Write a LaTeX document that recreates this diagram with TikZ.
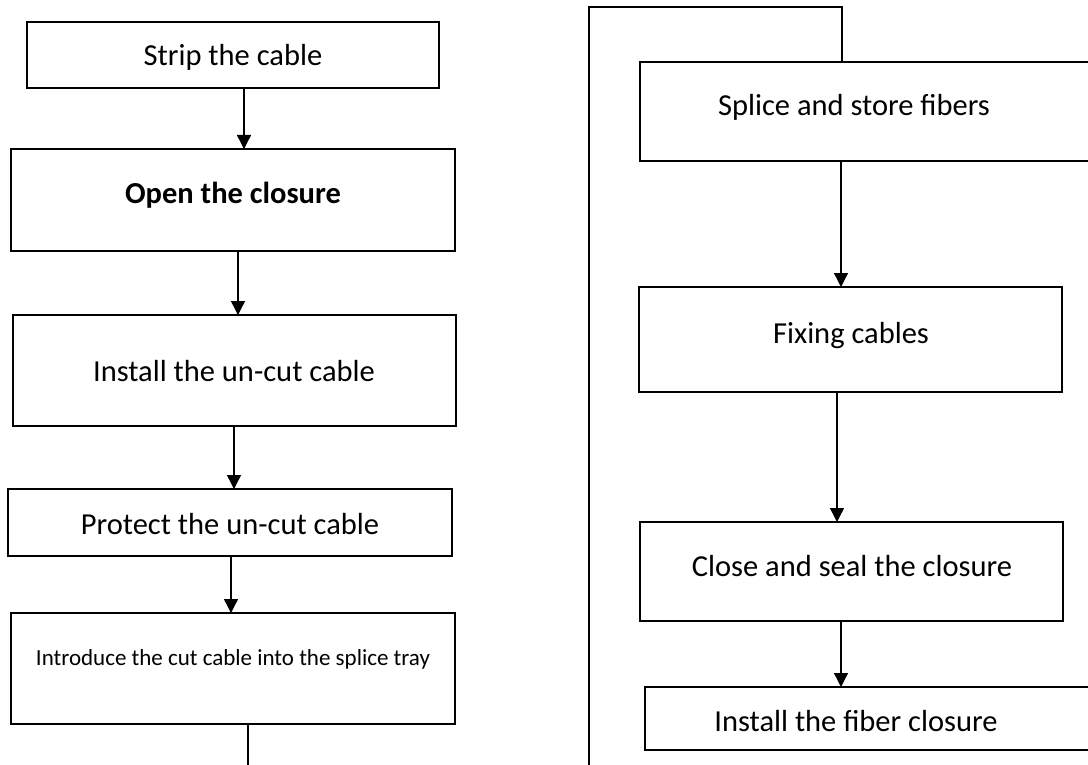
\documentclass[tikz,border=0pt]{standalone}
\usepackage{fontspec}
\setmainfont{Carlito}
\usetikzlibrary{arrows.meta}
\begin{document}
\begin{tikzpicture}[x=1pt,y=-1pt,
  box/.style={draw=black,line width=1.6pt,rectangle,inner sep=0pt,outer sep=0pt},
  lbl/.style={anchor=base,inner sep=0pt,font=\fontsize{30.5}{36}\selectfont},
  small/.style={anchor=base,inner sep=0pt,font=\fontsize{23}{28}\selectfont},
  arr/.style={line width=1.4pt,-{Triangle[width=14pt,length=14pt]}},
  link/.style={line width=1.4pt}]
\clip (0,0) rectangle (1088,765);
\fill[white] (0,0) rectangle (1088,765);
% left column boxes
\node[box,minimum width=412,minimum height=66] (strip) at (233,55) {};
\node[box,minimum width=444,minimum height=102] (open) at (233,200) {};
\node[box,minimum width=443,minimum height=111] (inst) at (234.5,370.5) {};
\node[box,minimum width=444,minimum height=67] (prot) at (230,522.5) {};
\node[box,minimum width=444,minimum height=111] (intro) at (233,668.5) {};
% right column boxes
\node[box,minimum width=455,minimum height=99] (splice) at (867.5,111.5) {};
\node[box,minimum width=423,minimum height=105] (fix) at (850.5,339.5) {};
\node[box,minimum width=423,minimum height=99] (close) at (851.5,571.5) {};
\node[box,minimum width=450,minimum height=63] (fiber) at (870,718.5) {};
% texts
\node[lbl] (tstrip) at (233,66) {Strip the cable};
\node[lbl,font=\fontsize{30.5}{36}\selectfont\bfseries] (topen) at (233,204) {Open the closure};
\node[lbl] (tinst) at (234,381) {Install the un-cut cable};
\node[lbl] (tprot) at (230,534) {Protect the un-cut cable};
\node[small] (tintro) at (233,665) {Introduce the cut cable into the splice tray};
\node[lbl] (tsplice) at (854,116) {Splice and store fibers};
\node[lbl] (tfix) at (851,343) {Fixing cables};
\node[lbl] (tclose) at (852,576) {Close and seal the closure};
\node[lbl] (tfiber) at (856,731) {Install the fiber closure};
% connectors
\draw[arr] ([xshift=11pt]strip.south) -- ([xshift=11pt]strip.south |- open.north);
\draw[arr] ([xshift=5pt]open.south) -- ([xshift=5pt]open.south |- inst.north);
\draw[arr] ([xshift=-0.5pt]inst.south) -- ([xshift=-0.5pt]inst.south |- prot.north);
\draw[arr] ([xshift=1pt]prot.south) -- ([xshift=1pt]prot.south |- intro.north);
\draw[arr] ([xshift=-26.5pt]splice.south) -- ([xshift=-26.5pt]splice.south |- fix.north);
\draw[arr] ([xshift=-13.5pt]fix.south) -- ([xshift=-13.5pt]fix.south |- close.north);
\draw[arr] ([xshift=-10.5pt]close.south) -- ([xshift=-10.5pt]close.south |- fiber.north);
% loop connector leaving the page and coming back
\coordinate (offL) at (248,775);
\coordinate (offR) at (589,775);
\coordinate (topL) at (589,7);
\coordinate (topR) at (842,7);
\draw[link] ([xshift=15pt]intro.south) -- ([xshift=15pt]intro.south |- offL);
\draw[link] (offR) -- (topL) -- (topR) -- (topR |- splice.north);
\end{tikzpicture}
\end{document}
